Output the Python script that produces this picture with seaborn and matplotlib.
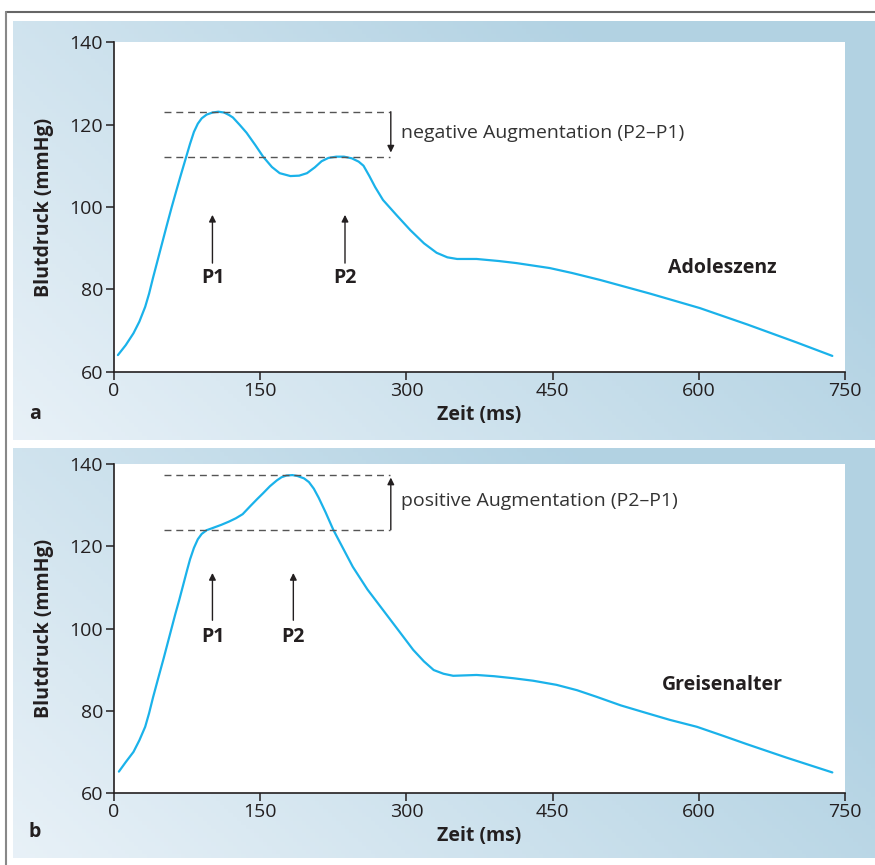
import numpy as np
import pandas as pd
import matplotlib
matplotlib.use('Agg')
import matplotlib.pyplot as plt
import seaborn as sns

sns.set_style('ticks')
plt.rcParams['font.family'] = ['Open Sans', 'DejaVu Sans']

# pulse wave, adolescent (panel a)
t_a = [4, 12, 20, 26, 32, 36, 40, 45, 49, 54, 59, 64, 68, 72, 75, 78, 82, 86, 90, 95,
       101, 107, 113, 118, 122, 129, 136, 145, 153, 162, 170, 181, 190, 198, 206, 213,
       220, 228, 236, 244, 251, 256, 262, 268, 276, 290, 304, 318, 331, 342, 352, 372,
       395, 413, 447, 470, 499, 550, 601, 650, 700, 737]
p_a = [64.1, 66.5, 69.4, 72.2, 75.8, 79.0, 82.8, 87.3, 90.9, 95.4, 99.8, 104.0, 107.3,
       110.5, 112.9, 115.3, 118.2, 120.2, 121.5, 122.4, 122.9, 123.1, 122.9, 122.3,
       121.7, 119.9, 118.0, 115.0, 112.2, 109.7, 108.2, 107.5, 107.6, 108.2, 109.6,
       111.1, 111.9, 112.2, 112.2, 111.8, 111.0, 110.0, 107.5, 104.8, 101.7, 98.0,
       94.4, 91.2, 88.9, 87.8, 87.4, 87.4, 86.9, 86.4, 85.2, 84.0, 82.3, 79.0, 75.5,
       71.5, 67.2, 63.9]

# pulse wave, old age (panel b)
t_b = [5, 12, 20, 26, 32, 36, 40, 45, 51, 55, 59, 63, 67, 71, 75, 78, 82, 86, 90, 95,
       102, 110, 118, 125, 132, 140, 147, 153, 160, 167, 172, 177, 183, 188, 195, 200,
       205, 210, 217, 225, 235, 245, 260, 276, 292, 307, 318, 328, 338, 348, 360, 372,
       390, 410, 430, 454, 475, 495, 520, 547, 570, 598, 625, 649, 690, 737]
p_b = [65.2, 67.5, 70.0, 72.8, 76.1, 79.4, 83.2, 87.6, 92.8, 96.4, 100.0, 103.6, 107.0,
       110.6, 114.2, 116.8, 119.6, 121.7, 123.0, 123.9, 124.5, 125.2, 126.0, 126.8,
       127.8, 129.8, 131.5, 132.9, 134.6, 136.0, 136.8, 137.2, 137.3, 137.1, 136.5,
       135.6, 134.0, 131.8, 128.3, 124.0, 119.5, 115.0, 109.5, 104.5, 99.5, 94.8, 92.0,
       89.9, 89.0, 88.5, 88.6, 88.7, 88.4, 87.9, 87.3, 86.3, 85.0, 83.4, 81.3, 79.4,
       77.8, 76.1, 73.9, 71.9, 68.6, 65.0]

# peak values and annotation positions
peaks_a = {'P1': (101, 123.1), 'P2': (237, 112.2)}
peaks_b = {'P1': (101, 124.0), 'P2': (184, 137.3)}
names = ['Adoleszenz', 'Greisenalter']
aug_text = ['negative Augmentation (P2\u2013P1)', 'positive Augmentation (P2\u2013P1)']
panel_letters = ['a', 'b']
x_ticks = [0, 150, 300, 450, 600, 750]
y_ticks = [60, 80, 100, 120, 140]

line_col = '#1ab2ea'
ink = '#231f20'

fig = plt.figure(figsize=(8.75, 8.65), dpi=100)
W, H = 875, 865


def fx(px):
    return px / W


def fy(py):
    return 1 - py / H


# gradient background for each panel
light = np.array([0.91, 0.945, 0.97])
dark = np.array([0.70, 0.825, 0.89])
gy, gx = np.mgrid[0:1:100j, 0:1:200j]
tt = np.clip(0.85 * gx + 0.45 * gy, 0, 1)[..., None]
grad = light * (1 - tt) + dark * tt

panel_px = [(13, 21, 875, 440), (13, 448, 875, 858)]
axes_px = [(114, 42, 845, 372), (114, 464, 845, 793)]

# frame lines
fig.add_artist(plt.Line2D([fx(6), 1], [fy(12), fy(12)], color='#666666', lw=1.5))
fig.add_artist(plt.Line2D([fx(6), fx(6)], [fy(12), 0], color='#888888', lw=1.5))

curves = [(t_a, p_a, peaks_a), (t_b, p_b, peaks_b)]

for i, (t, p, peaks) in enumerate(curves):
    x0, y0, x1, y1 = panel_px[i]
    bg = fig.add_axes([fx(x0), fy(y1), fx(x1 - x0), (y1 - y0) / H], zorder=0)
    bg.imshow(grad, aspect='auto', origin='lower', extent=(0, 1, 0, 1))
    bg.axis('off')

    a0, b0, a1, b1 = axes_px[i]
    ax = fig.add_axes([fx(a0), fy(b1), fx(a1 - a0), (b1 - b0) / H], zorder=1)
    ax.set_facecolor('white')

    df = pd.DataFrame({'Zeit': t, 'Blutdruck': p})
    sns.lineplot(data=df, x='Zeit', y='Blutdruck', ax=ax, color=line_col, lw=1.6)

    ax.set_xlim(0, 750)
    ax.set_ylim(60, 140)
    ax.set_xticks(x_ticks)
    ax.set_yticks(y_ticks)
    sns.despine(ax=ax)
    for s in ['left', 'bottom']:
        ax.spines[s].set_color(ink)
        ax.spines[s].set_linewidth(1.2)
    ax.tick_params(colors=ink, labelsize=14, length=6, width=1.1, pad=2)
    ax.tick_params(axis='x', pad=1)
    ax.set_xlabel('Zeit (ms)', fontsize=14, fontweight='bold', color=ink, labelpad=4)
    ax.set_ylabel('Blutdruck (mmHg)', fontsize=14, fontweight='bold', color=ink, labelpad=11)

    # dashed reference lines at P1 and P2
    p1 = peaks['P1'][1]
    p2 = peaks['P2'][1]
    ax.hlines([p1, p2], 51, 283, colors='#555555', linestyles=(0, (5, 3.5)), lw=1.0)
    ax.annotate('', xy=(284, p2 + (1.0 if p2 < p1 else -0.6)), xytext=(284, p1),
                arrowprops=dict(arrowstyle='-|>', color=ink, lw=1.0,
                                mutation_scale=10, shrinkA=0, shrinkB=0))
    ax.text(294, (p1 + p2) / 2 + 0.4, aug_text[i], fontsize=14, color='#333333',
            va='center', ha='left')

    # P1 / P2 arrows
    if i == 0:
        tip, base, lab = 98.1, 86.4, 82.8
    else:
        tip, base, lab = 113.5, 102.0, 98.0
    for name, (px_, _) in peaks.items():
        ax.annotate('', xy=(px_, tip), xytext=(px_, base),
                    arrowprops=dict(arrowstyle='-|>', color=ink, lw=1.0,
                                    mutation_scale=10, shrinkA=0, shrinkB=0))
        ax.text(px_, lab, name, fontsize=14, fontweight='bold', color=ink,
                ha='center', va='center')

    ax.text(624, 85.2 if i == 0 else 86.3, names[i], fontsize=14, fontweight='bold',
            color=ink, ha='center', va='center')

    fig.text(fx(35), fy(y1 - 26), panel_letters[i], fontsize=14, fontweight='bold',
             color=ink, ha='center', va='center')

fig.savefig('out.png', dpi=100)
